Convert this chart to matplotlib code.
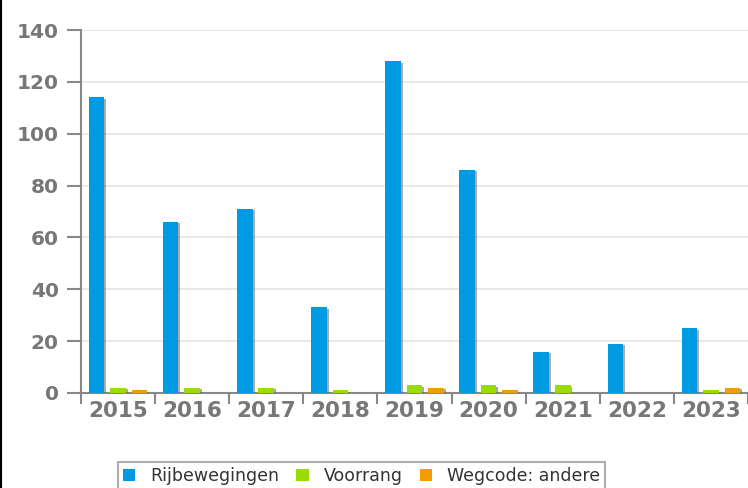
import matplotlib
matplotlib.use("Agg")
import matplotlib.pyplot as plt
import matplotlib.patheffects as pe
from matplotlib.patches import Patch
from matplotlib.lines import Line2D
import numpy as np

years = ["2015", "2016", "2017", "2018", "2019", "2020", "2021", "2022", "2023"]
rijbewegingen = [114, 66, 71, 33, 128, 86, 16, 19, 25]
voorrang = [2, 2, 2, 1, 3, 3, 3, 0, 1]
wegcode_andere = [1, 0, 0, 0, 2, 1, 0, 0, 2]
series_names = ["Rijbewegingen", "Voorrang", "Wegcode: andere"]
colors = ["#009ae2", "#99dd00", "#f59c00"]
y_ticks = [0, 20, 40, 60, 80, 100, 120, 140]

W, H = 748, 488
fig = plt.figure(figsize=(W / 100, H / 100), dpi=100)
ax = fig.add_axes([81 / W, 1 - 393 / H, (W - 81) / W, (393 - 30) / H])

x = np.arange(len(years))
width = 0.21
offsets = [-0.29, 0.0, 0.29]
shadow = [pe.SimplePatchShadow(offset=(1.4, -1.0), shadow_rgbFace="#666666", alpha=0.55), pe.Normal()]
for vals, off, col in zip([rijbewegingen, voorrang, wegcode_andere], offsets, colors):
    bars = ax.bar(x + off, vals, width=width, color=col, zorder=3)
    for b in bars:
        if b.get_height() > 0:
            b.set_path_effects(shadow)

ax.set_xlim(-0.5, len(years) - 0.5)
ax.set_ylim(0, 140)
ax.set_yticks(y_ticks)
ax.set_yticklabels([str(v) for v in y_ticks])
ax.set_xticks(x)
ax.set_xticklabels(years)
ax.set_xticks(np.arange(len(years) + 1) - 0.5, minor=True)

ax.grid(axis="y", color="#e6e6e6", linewidth=1.3, zorder=0)
ax.set_axisbelow(True)
for s in ["top", "right"]:
    ax.spines[s].set_visible(False)
for s in ["left", "bottom"]:
    ax.spines[s].set_color("#888888")
    ax.spines[s].set_linewidth(1.5)

ax.tick_params(axis="y", which="major", length=10, width=1.5, color="#888888",
               labelcolor="#777777", labelsize=14.5, pad=6)
ax.tick_params(axis="x", which="major", length=0, labelcolor="#777777", labelsize=15.5, pad=6)
ax.tick_params(axis="x", which="minor", length=8, width=1.5, color="#888888")
for lab in ax.get_yticklabels() + ax.get_xticklabels():
    lab.set_fontweight("bold")

# left border line
fig.add_artist(Line2D([0.5 / W, 0.5 / W], [0, 1], color="black", linewidth=1.5, transform=fig.transFigure))

handles = [Patch(facecolor=c, edgecolor="none") for c in colors]
leg = fig.legend(handles, series_names, loc="upper left", bbox_to_anchor=(118 / W, 1 - 462 / H),
                 ncol=3, frameon=True, fancybox=False, fontsize=12.5,
                 handlelength=0.7, handleheight=0.7, handletextpad=0.85, columnspacing=1.0,
                 borderpad=0.3, borderaxespad=0)
leg.get_frame().set_edgecolor("#999999")
leg.get_frame().set_linewidth(1.5)
for t in leg.get_texts():
    t.set_color("#333333")

fig.savefig("out.png", dpi=100)
